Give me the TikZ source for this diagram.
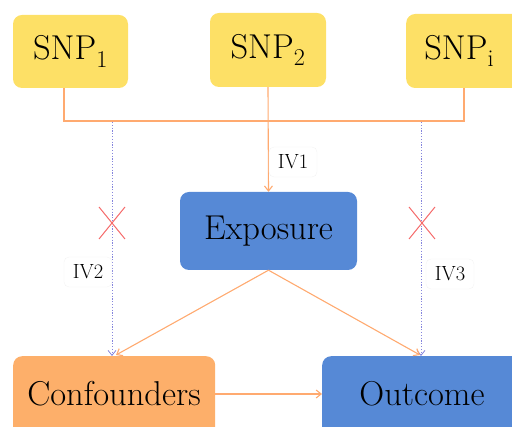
\documentclass[tikz,border=0pt]{standalone}
\usepackage{fontspec}
\usetikzlibrary{arrows.meta,calc}
\definecolor{snpy}{HTML}{FDE066}
\definecolor{blu}{HTML}{5689D6}
\definecolor{org}{HTML}{FDAF6A}
\definecolor{lin}{HTML}{FFAA70}
\definecolor{dot}{HTML}{8585DD}
\definecolor{crs}{HTML}{F56A6A}
\tikzset{
  bigfont/.style={font=\fontsize{34.5}{36}\selectfont},
  box/.style={rounded corners=9pt, inner sep=0pt, bigfont},
  ivlab/.style={font=\fontsize{20.5}{22}\selectfont, draw=black!5, rounded corners=5pt, minimum width=48pt, minimum height=30pt, inner sep=0pt},
  oline/.style={draw=lin, line width=1.1pt},
  oarrow/.style={oline, -{Straight Barb[length=5pt,width=8pt]}},
  darrow/.style={draw=dot, line width=0.8pt, dash pattern=on 1.2pt off 1.6pt, -{Straight Barb[length=5pt,width=8pt]}},
  crossln/.style={draw=crs, line width=1pt}
}
\begin{document}
\begin{tikzpicture}[x=1pt,y=-1pt]
\useasboundingbox (0,0) rectangle (512,427);
\begin{scope}
\clip (0,0) rectangle (512,427);
\node[box, fill=snpy, minimum width=115pt, minimum height=73pt] (s1) at (70.5,51.5) {SNP\textsubscript{1}};
\node[box, fill=snpy, minimum width=116pt, minimum height=74pt] (s2) at (268,50) {SNP\textsubscript{2}};
\node[box, fill=snpy, minimum width=116pt, minimum height=74pt, anchor=west] (si) at (406,51) {\hspace*{-10pt}SNP\textsubscript{i}};
\node[box, fill=blu, minimum width=177pt, minimum height=78pt] (ex) at (268.5,231) {Exposure};
\node[box, fill=org, minimum width=202pt, minimum height=90pt, anchor=north west] (cf) at (13,356) {};
\node[box, fill=blu, minimum width=200pt, minimum height=90pt, anchor=north west] (oc) at (322,356) {};
\end{scope}
\node[bigfont] (cft) at (114,394) {Confounders};
\node[bigfont] (oct) at (422,394) {Outcome};
% orange bus
\coordinate (b1) at (64,121);
\coordinate (b2) at (268,121);
\coordinate (b3) at (464,121);
\draw[oline] (s1.south -| b1) -- (b1) -- (b3) -- (si.south -| b3);
\draw[oarrow] (s2.south) -- (ex.north);
% dotted paths
\coordinate (d1) at (112,122);
\coordinate (d2) at (421,122);
\draw[darrow] (d1) -- (cf.north -| d1);
\draw[darrow] (d2) -- (oc.north -| d2);
% crosses
\coordinate (x1) at (112,223);
\coordinate (x2) at (422,223);
\draw[crossln] ($(x1)+(-13,-16)$) -- ($(x1)+(13,16)$) ($(x1)+(-13,16)$) -- ($(x1)+(13,-16)$);
\draw[crossln] ($(x2)+(-13,-16)$) -- ($(x2)+(13,16)$) ($(x2)+(-13,16)$) -- ($(x2)+(13,-16)$);
% exposure arrows
\draw[oarrow] (ex.south) -- (116,355);
\draw[oarrow] (ex.south) -- (420,355);
\draw[oarrow] (cf.east |- cft) -- (oc.west |- oct);
% labels
\node[ivlab] (iv1) at (293,162) {IV1};
\node[ivlab] (iv2) at (88,272) {IV2};
\node[ivlab] (iv3) at (450,274) {IV3};
\end{tikzpicture}
\end{document}
